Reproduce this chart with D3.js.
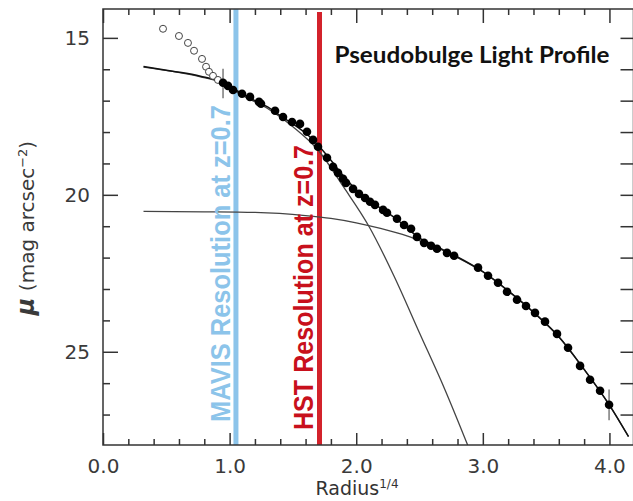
<!DOCTYPE html>
<html>
<head>
<meta charset="utf-8">
<script src="https://cdn.jsdelivr.net/npm/d3@7"></script>
<style>
  body { margin: 0; background: #fff; }
  svg { display: block; }
</style>
</head>
<body>
<div id="chart"></div>
<script>
// data: radius^(1/4) and surface brightness mu
var openR = [0.474, 0.600, 0.671, 0.719, 0.782, 0.814, 0.837, 0.869, 0.908];
var openMu = [14.71, 14.94, 15.16, 15.41, 15.67, 15.92, 16.08, 16.21, 16.34];

var fillR = [0.948, 0.987, 1.027, 1.098, 1.161, 1.232, 1.248, 1.359, 1.422, 1.493,
  1.556, 1.611, 1.659, 1.698, 1.769, 1.817, 1.856, 1.896, 1.919, 1.975,
  2.022, 2.070, 2.109, 2.148, 2.212, 2.243, 2.322, 2.378, 2.433, 2.480,
  2.536, 2.591, 2.638, 2.717, 2.773, 2.962, 3.041, 3.120, 3.191, 3.270,
  3.341, 3.412, 3.491, 3.586, 3.673, 3.768, 3.847, 3.926, 3.997];
var fillMu = [16.43, 16.53, 16.66, 16.78, 16.88, 17.04, 17.10, 17.32, 17.52, 17.68,
  17.74, 17.99, 18.25, 18.47, 18.82, 19.11, 19.30, 19.49, 19.62, 19.81,
  19.97, 20.10, 20.22, 20.32, 20.48, 20.57, 20.76, 20.96, 21.08, 21.34,
  21.53, 21.62, 21.72, 21.85, 21.94, 22.32, 22.58, 22.80, 23.09, 23.34,
  23.54, 23.76, 24.04, 24.43, 24.87, 25.45, 25.89, 26.24, 26.69];

// error bars
var errR = [0.948, 3.997];
var errLo = [15.98, 26.20];
var errHi = [16.92, 27.18];

// fitted components
var bulgeR = [0.32, 0.55, 0.77, 0.92, 1.10, 1.30, 1.50, 1.70, 1.90, 2.10, 2.30, 2.50, 2.70, 2.88];
var bulgeMu = [15.93, 16.07, 16.24, 16.40, 16.83, 17.25, 17.83, 18.58, 19.75, 21.00, 22.60, 24.40, 26.20, 27.97];

var diskR = [0.32, 0.80, 1.20, 1.60, 1.80, 2.00, 2.20, 2.40, 2.60, 2.70, 2.80, 3.00, 3.20, 3.40, 3.60, 3.80, 4.00, 4.15];
var diskMu = [20.53, 20.54, 20.56, 20.66, 20.75, 20.89, 21.08, 21.31, 21.63, 21.80, 22.00, 22.45, 23.06, 23.74, 24.52, 25.56, 26.70, 27.70];

var totalR = [0.32, 0.55, 0.77, 0.92, 1.00, 1.10, 1.20, 1.30, 1.40, 1.50, 1.60, 1.70, 1.80, 1.90,
  2.00, 2.10, 2.20, 2.30, 2.40, 2.50, 2.60, 2.70, 2.80, 3.00, 3.20, 3.40, 3.60, 3.80, 4.00, 4.15];
var totalMu = [15.91, 16.06, 16.22, 16.38, 16.55, 16.78, 17.00, 17.20, 17.48, 17.74, 18.03, 18.42, 18.90, 19.40,
  19.84, 20.18, 20.45, 20.72, 21.05, 21.38, 21.58, 21.78, 21.98, 22.45, 23.06, 23.74, 24.52, 25.56, 26.70, 27.70];

// resolution limits
var mavisR = 1.05;
var hstR = 1.71;

// ticks
var xMajor = [0, 1, 2, 3, 4];
var xMinor = [0.2, 0.4, 0.6, 0.8, 1.2, 1.4, 1.6, 1.8, 2.2, 2.4, 2.6, 2.8, 3.2, 3.4, 3.6, 3.8, 4.2];
var yMajor = [15, 20, 25];
var yMinor = [16, 17, 18, 19, 21, 22, 23, 24, 26, 27];
var yAll = [15, 16, 17, 18, 19, 20, 21, 22, 23, 24, 25, 26, 27];

// svg and scales
var W = 633, H = 501;
var plot = { left: 103, right: 633.5, top: 9, bottom: 445 };

var svg = d3.select("#chart").append("svg")
  .attr("width", W)
  .attr("height", H);

var x = d3.scaleLinear().domain([0, 4.19]).range([plot.left, plot.right]);
var y = d3.scaleLinear().domain([14.08, 27.97]).range([plot.top, plot.bottom]);

svg.append("defs").append("clipPath").attr("id", "clip")
  .append("rect")
  .attr("x", plot.left)
  .attr("y", plot.top)
  .attr("width", plot.right - plot.left)
  .attr("height", plot.bottom - plot.top);

var inner = svg.append("g").attr("clip-path", "url(#clip)");

// vertical resolution lines
inner.append("line")
  .attr("x1", x(mavisR)).attr("x2", x(mavisR))
  .attr("y1", plot.top).attr("y2", plot.bottom)
  .attr("stroke", "#8cc4ea").attr("stroke-width", 5);

inner.append("line")
  .attr("x1", x(hstR)).attr("x2", x(hstR))
  .attr("y1", plot.top + 3).attr("y2", plot.bottom)
  .attr("stroke", "#d3222b").attr("stroke-width", 5);

// rotated labels
svg.append("text")
  .attr("transform", "translate(" + (x(mavisR) - 6) + ",422) rotate(-90)")
  .attr("font-family", "'Liberation Sans Narrow', 'Liberation Sans', Arial, sans-serif")
  .attr("font-weight", "bold")
  .attr("font-size", 27)
  .attr("fill", "#8cc4ea")
  .attr("textLength", 317)
  .attr("lengthAdjust", "spacingAndGlyphs")
  .text("MAVIS Resolution at z=0.7");

svg.append("text")
  .attr("transform", "translate(" + (x(hstR) - 7) + ",430) rotate(-90)")
  .attr("font-family", "'Liberation Sans Narrow', 'Liberation Sans', Arial, sans-serif")
  .attr("font-weight", "bold")
  .attr("font-size", 27)
  .attr("fill", "#c8101c")
  .attr("textLength", 285)
  .attr("lengthAdjust", "spacingAndGlyphs")
  .text("HST Resolution at z=0.7");

// fitted curves
function lineOf(rs, mus) {
  var pts = rs.map(function(r, i) { return [r, mus[i]]; });
  return d3.line()
    .x(function(d) { return x(d[0]); })
    .y(function(d) { return y(d[1]); })
    .curve(d3.curveMonotoneX)(pts);
}

inner.append("path").attr("d", lineOf(bulgeR, bulgeMu))
  .attr("fill", "none").attr("stroke", "#444").attr("stroke-width", 1.3);
inner.append("path").attr("d", lineOf(diskR, diskMu))
  .attr("fill", "none").attr("stroke", "#444").attr("stroke-width", 1.3);
inner.append("path").attr("d", lineOf(totalR, totalMu))
  .attr("fill", "none").attr("stroke", "#111").attr("stroke-width", 1.5);

// error bars
errR.forEach(function(r, i) {
  inner.append("line")
    .attr("x1", x(r)).attr("x2", x(r))
    .attr("y1", y(errLo[i])).attr("y2", y(errHi[i]))
    .attr("stroke", "#666").attr("stroke-width", 1.3);
});

// data points
inner.selectAll(".open")
  .data(openR)
  .enter()
  .append("circle")
  .attr("class", "open")
  .attr("cx", function(d) { return x(d); })
  .attr("cy", function(d, i) { return y(openMu[i]); })
  .attr("r", 3.5)
  .attr("fill", "#fff")
  .attr("stroke", "#444")
  .attr("stroke-width", 1);

inner.selectAll(".fill")
  .data(fillR)
  .enter()
  .append("circle")
  .attr("class", "fill")
  .attr("cx", function(d) { return x(d); })
  .attr("cy", function(d, i) { return y(fillMu[i]); })
  .attr("r", 4.3)
  .attr("fill", "#000");

// axes with inward ticks
var tickFont = "'DejaVu Sans', sans-serif";

function styleAxis(g) {
  g.select(".domain").remove();
  g.selectAll("line").attr("stroke", "#333").attr("stroke-width", 1.5);
  g.selectAll("text")
    .attr("font-family", tickFont)
    .attr("font-size", 20)
    .attr("fill", "#3a3a3a");
}

svg.append("g")
  .attr("transform", "translate(0," + plot.bottom + ")")
  .call(d3.axisBottom(x).tickValues(xMajor).tickSize(-12).tickPadding(14)
    .tickFormat(d3.format(".1f")))
  .call(styleAxis);
svg.append("g")
  .attr("transform", "translate(0," + plot.bottom + ")")
  .call(d3.axisBottom(x).tickValues(xMinor).tickSize(-6).tickFormat(""))
  .call(styleAxis);

svg.append("g")
  .attr("transform", "translate(0," + plot.top + ")")
  .call(d3.axisTop(x).tickValues(xMajor).tickSize(-14).tickFormat(""))
  .call(styleAxis);
svg.append("g")
  .attr("transform", "translate(0," + plot.top + ")")
  .call(d3.axisTop(x).tickValues(xMinor).tickSize(-6).tickFormat(""))
  .call(styleAxis);

svg.append("g")
  .attr("transform", "translate(" + plot.left + ",0)")
  .call(d3.axisLeft(y).tickValues(yMajor).tickSize(-15).tickPadding(13)
    .tickFormat(d3.format("d")))
  .call(styleAxis);
svg.append("g")
  .attr("transform", "translate(" + plot.left + ",0)")
  .call(d3.axisLeft(y).tickValues(yMinor).tickSize(-7).tickFormat(""))
  .call(styleAxis);

svg.append("g")
  .attr("transform", "translate(" + plot.right + ",0)")
  .call(d3.axisRight(y).tickValues(yAll).tickSize(-13).tickFormat(""))
  .call(styleAxis);

// frame
svg.append("rect")
  .attr("x", plot.left)
  .attr("y", plot.top)
  .attr("width", plot.right - plot.left)
  .attr("height", plot.bottom - plot.top)
  .attr("fill", "none")
  .attr("stroke", "#333")
  .attr("stroke-width", 1.5);

// title
svg.append("text")
  .attr("x", 472)
  .attr("y", 63)
  .attr("text-anchor", "middle")
  .attr("font-family", "Lato, 'Liberation Sans', Arial, sans-serif")
  .attr("font-weight", "bold")
  .attr("font-size", 22)
  .attr("fill", "#111")
  .attr("textLength", 275)
  .attr("lengthAdjust", "spacingAndGlyphs")
  .text("Pseudobulge Light Profile");

// axis titles
var xt = svg.append("text")
  .attr("x", 357)
  .attr("y", 495)
  .attr("text-anchor", "middle")
  .attr("font-family", tickFont)
  .attr("font-size", 19)
  .attr("fill", "#333");
xt.append("tspan").text("Radius");
xt.append("tspan").attr("baseline-shift", "super").attr("font-size", 12).text("1/4");

var yt = svg.append("text")
  .attr("transform", "translate(34,228) rotate(-90)")
  .attr("text-anchor", "middle")
  .attr("font-family", tickFont)
  .attr("font-size", 20)
  .attr("fill", "#3a3a3a");
yt.append("tspan").attr("font-style", "italic").attr("font-weight", "bold")
  .attr("font-size", 24).text("μ");
yt.append("tspan").text(" (mag arcsec");
yt.append("tspan").attr("baseline-shift", "super").attr("font-size", 13).text("−2");
yt.append("tspan").text(")");
</script>
</body>
</html>
